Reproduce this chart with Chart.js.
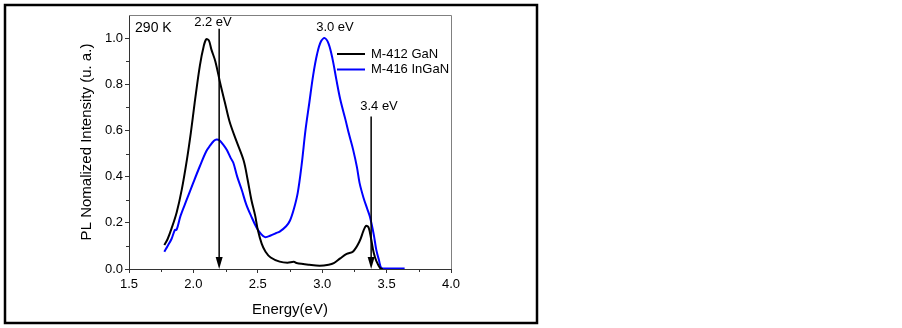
<!DOCTYPE html>
<html>
<head>
<meta charset="utf-8">
<script src="https://cdn.jsdelivr.net/npm/chart.js@4"></script>
<style>
html,body{margin:0;padding:0;background:#fff;}
</style>
</head>
<body>
<canvas id="grafico" width="902" height="328"></canvas>
<script>
// M-412 GaN (negro)
const ganEnergia = [1.774,1.80,1.83,1.87,1.91,1.95,1.98,2.01,2.05,2.08,2.10,2.12,2.14,2.17,2.21,2.245,2.28,2.33,2.39,2.42,2.45,2.48,2.50,2.53,2.56,2.60,2.67,2.73,2.78,2.80,2.90,2.98,3.05,3.09,3.14,3.19,3.24,3.29,3.32,3.34,3.36,3.38,3.40,3.42,3.45,3.47];
const ganIntensidad = [0.104,0.13,0.175,0.245,0.345,0.475,0.59,0.72,0.88,0.965,0.995,0.99,0.95,0.90,0.80,0.72,0.64,0.56,0.47,0.39,0.30,0.23,0.17,0.11,0.075,0.05,0.032,0.027,0.031,0.026,0.018,0.014,0.018,0.025,0.046,0.065,0.076,0.12,0.165,0.187,0.18,0.13,0.07,0.035,0.004,0.0];
// M-416 InGaN (azul)
const inganEnergia = [1.774,1.80,1.83,1.857,1.87,1.90,1.948,2.00,2.05,2.10,2.13,2.16,2.18,2.20,2.23,2.26,2.29,2.31,2.34,2.375,2.41,2.45,2.49,2.52,2.556,2.60,2.64,2.67,2.72,2.75,2.78,2.81,2.84,2.87,2.90,2.93,2.96,2.99,3.02,3.05,3.08,3.11,3.14,3.18,3.21,3.24,3.27,3.29,3.32,3.35,3.37,3.40,3.42,3.44,3.46,3.50,3.55,3.60,3.64];
const inganIntensidad = [0.075,0.10,0.13,0.17,0.17,0.23,0.30,0.375,0.445,0.51,0.535,0.555,0.561,0.558,0.54,0.515,0.48,0.46,0.40,0.343,0.28,0.227,0.18,0.155,0.138,0.145,0.155,0.162,0.185,0.21,0.26,0.33,0.45,0.60,0.72,0.84,0.93,0.985,1.0,0.975,0.91,0.82,0.735,0.648,0.58,0.517,0.44,0.373,0.31,0.26,0.227,0.15,0.083,0.04,0.004,0.002,0.002,0.002,0.002];

const nombres = ["M-412 GaN","M-416 InGaN"];
const colores = ["#000000","#0000ff"];

// flechas y etiquetas (en unidades de los ejes)
const flechaEnergia = [2.2, 3.38];
const flechaTope = [1.04, 0.66];
const etiquetas = ["2.2 eV","3.0 eV","3.4 eV"];
const etiquetaEnergia = [2.152, 3.099, 3.441];
const etiquetaValor = [1.07, 1.048, 0.706];

const xMenores = [1.75,2.25,2.75,3.25,3.75];
const yMenores = [0.1,0.3,0.5,0.7,0.9];

function puntos(xs, ys){
    let p = [];
    for (let i = 0; i < xs.length; i++) {
        p.push({x: xs[i], y: ys[i]});
    }
    return p;
}

var fuente = "'Liberation Sans', Arial, sans-serif";

var marcas = {
    id: "marcas",
    beforeDraw: function(chart){
        var ctx = chart.ctx;
        ctx.save();
        ctx.fillStyle = "#fff";
        ctx.fillRect(0, 0, chart.width, chart.height);
        ctx.restore();
    },
    afterDraw: function(chart){
        var ctx = chart.ctx;
        var sx = chart.scales.x, sy = chart.scales.y, a = chart.chartArea;
        ctx.save();
        // marco exterior
        ctx.strokeStyle = "#000";
        ctx.lineWidth = 2.5;
        ctx.strokeRect(5, 5, 532, 318);
        // caja del grafico
        ctx.strokeStyle = "#808080";
        ctx.lineWidth = 1;
        ctx.beginPath();
        ctx.moveTo(a.left, a.top + 0.5);
        ctx.lineTo(a.right + 0.5, a.top + 0.5);
        ctx.lineTo(a.right + 0.5, a.bottom);
        ctx.stroke();
        // ticks menores
        ctx.strokeStyle = "#333";
        ctx.beginPath();
        for (let i = 0; i < xMenores.length; i++) {
            let px = Math.round(sx.getPixelForValue(xMenores[i])) + 0.5;
            ctx.moveTo(px, a.bottom);
            ctx.lineTo(px, a.bottom + 3);
        }
        for (let i = 0; i < yMenores.length; i++) {
            let py = Math.round(sy.getPixelForValue(yMenores[i])) + 0.5;
            ctx.moveTo(a.left, py);
            ctx.lineTo(a.left - 3, py);
        }
        ctx.stroke();
        // flechas
        ctx.strokeStyle = "#000";
        ctx.fillStyle = "#000";
        ctx.lineWidth = 1.5;
        for (let i = 0; i < flechaEnergia.length; i++) {
            let px = sx.getPixelForValue(flechaEnergia[i]);
            let arriba = sy.getPixelForValue(flechaTope[i]);
            let abajo = sy.getPixelForValue(0);
            ctx.beginPath();
            ctx.moveTo(px, arriba);
            ctx.lineTo(px, abajo - 8);
            ctx.stroke();
            ctx.beginPath();
            ctx.moveTo(px - 3.5, abajo - 12);
            ctx.lineTo(px + 3.5, abajo - 12);
            ctx.lineTo(px, abajo);
            ctx.closePath();
            ctx.fill();
        }
        // etiquetas
        ctx.textAlign = "center";
        ctx.textBaseline = "middle";
        ctx.font = "13px " + fuente;
        for (let i = 0; i < etiquetas.length; i++) {
            ctx.fillText(etiquetas[i], sx.getPixelForValue(etiquetaEnergia[i]), sy.getPixelForValue(etiquetaValor[i]));
        }
        ctx.textAlign = "left";
        ctx.font = "14px " + fuente;
        ctx.fillText("290 K", sx.getPixelForValue(1.547), sy.getPixelForValue(1.043));
        // leyenda
        ctx.font = "13px " + fuente;
        ctx.lineWidth = 2;
        for (let i = 0; i < nombres.length; i++) {
            let ly = a.top + 39 + i * 15.5;
            ctx.strokeStyle = colores[i];
            ctx.beginPath();
            ctx.moveTo(a.left + 208, ly);
            ctx.lineTo(a.left + 236, ly);
            ctx.stroke();
            ctx.fillStyle = "#000";
            ctx.fillText(nombres[i], a.left + 242, ly);
        }
        ctx.restore();
    }
};

var ctx = document.getElementById("grafico").getContext("2d");
var chart = new Chart(ctx, {
    type: "line",
    plugins: [marcas],
    data: {
        datasets: [
            {label: nombres[0], data: puntos(ganEnergia, ganIntensidad), borderColor: colores[0], borderWidth: 2, pointRadius: 0, tension: 0.35, fill: false},
            {label: nombres[1], data: puntos(inganEnergia, inganIntensidad), borderColor: colores[1], borderWidth: 2, pointRadius: 0, tension: 0.35, fill: false}
        ]
    },
    options: {
        responsive: false,
        animation: false,
        layout: {padding: {left: 0, top: 15, right: 451, bottom: 0}},
        plugins: {legend: {display: false}, tooltip: {enabled: false}},
        scales: {
            x: {
                type: "linear",
                min: 1.5,
                max: 4.0,
                afterFit: function(s){ s.height = 59; },
                border: {display: true, color: "#333", width: 1},
                grid: {drawOnChartArea: false, drawTicks: true, tickLength: 4, color: "#333"},
                ticks: {stepSize: 0.5, padding: 4, color: "#000", font: {family: fuente, size: 13}, callback: function(v){ return v.toFixed(1); }},
                title: {display: true, text: "Energy(eV)", color: "#000", font: {family: fuente, size: 15}, padding: {top: 0, bottom: 9}}
            },
            y: {
                min: 0,
                max: 1.1,
                afterFit: function(s){ s.width = 129; },
                border: {display: true, color: "#333", width: 1},
                grid: {drawOnChartArea: false, drawTicks: true, tickLength: 4, color: "#333"},
                ticks: {stepSize: 0.2, includeBounds: false, padding: 2, color: "#000", font: {family: fuente, size: 13}, callback: function(v){ return v.toFixed(1); }},
                title: {display: true, text: "PL Nomalized Intensity (u. a.)", color: "#000", font: {family: fuente, size: 15}, padding: {top: 78, bottom: 0}}
            }
        }
    }
});
</script>
</body>
</html>
